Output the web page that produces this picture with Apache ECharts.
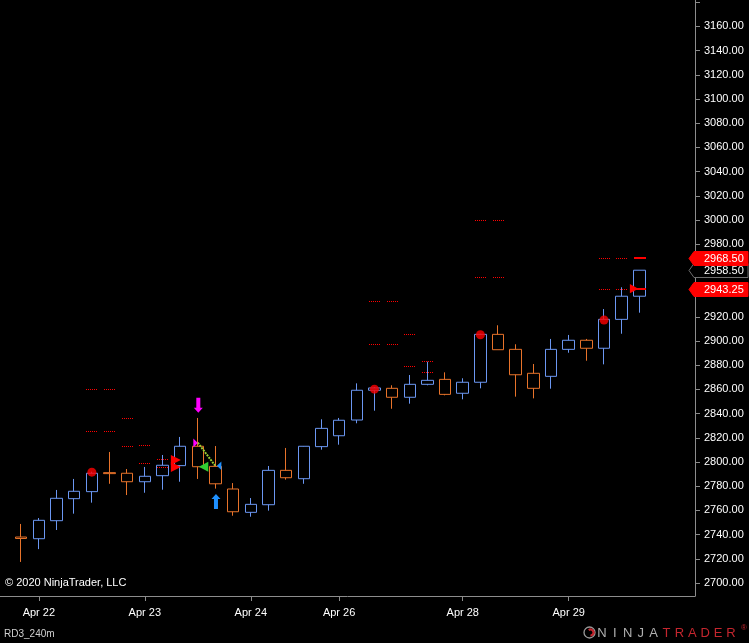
<!DOCTYPE html>
<html>
<head>
<meta charset="utf-8">
<title>RD3_240m</title>
<script src="https://cdn.jsdelivr.net/npm/echarts@6.0.0/dist/echarts.min.js"></script>
<style>
  html, body { margin: 0; padding: 0; background: #000; }
  #chart { width: 749px; height: 643px; }
</style>
</head>
<body>
<div id="chart"></div>
<script>
// 240 minute bars, one row per bar: [open, close, low, high]
const candles = [
  [2738.0, 2736.8, 2717.4, 2748.8],
  [2736.6, 2751.8, 2728.0, 2753.7],
  [2751.5, 2770.0, 2743.8, 2776.9],
  [2769.7, 2775.8, 2757.3, 2786.0],
  [2775.5, 2790.7, 2766.4, 2792.0],
  [2791.2, 2790.4, 2782.0, 2808.3],
  [2790.7, 2783.7, 2772.7, 2794.2],
  [2783.7, 2788.2, 2774.6, 2795.9],
  [2788.7, 2797.3, 2777.1, 2805.8],
  [2797.0, 2813.0, 2783.7, 2820.7],
  [2813.0, 2796.1, 2786.0, 2836.4],
  [2796.4, 2782.0, 2778.0, 2813.2],
  [2777.7, 2758.9, 2755.6, 2782.6],
  [2758.4, 2765.0, 2754.8, 2770.2],
  [2764.7, 2793.1, 2759.8, 2796.7],
  [2793.1, 2787.0, 2785.4, 2811.6],
  [2786.2, 2813.0, 2782.0, 2813.2],
  [2812.7, 2827.8, 2810.2, 2835.3],
  [2821.7, 2834.5, 2814.3, 2836.4],
  [2834.7, 2859.3, 2832.0, 2865.0],
  [2859.3, 2861.2, 2842.4, 2862.0],
  [2860.9, 2853.5, 2844.0, 2863.4],
  [2853.5, 2864.2, 2848.2, 2871.9],
  [2864.2, 2867.5, 2863.4, 2882.9],
  [2868.3, 2855.9, 2855.1, 2874.1],
  [2856.8, 2865.9, 2851.8, 2869.2],
  [2865.9, 2905.5, 2860.9, 2906.0],
  [2905.5, 2892.8, 2892.8, 2913.0],
  [2893.1, 2872.1, 2854.0, 2897.3],
  [2873.3, 2860.9, 2852.6, 2881.0],
  [2870.8, 2893.1, 2860.6, 2901.7],
  [2893.1, 2900.6, 2890.3, 2905.0],
  [2900.6, 2894.0, 2883.7, 2901.7],
  [2894.0, 2917.9, 2880.7, 2926.4],
  [2917.9, 2937.0, 2906.0, 2944.4],
  [2937.0, 2958.5, 2923.4, 2958.5]
];

// session labels on the time axis (bar index -> text)
const dateTicks = [1, 7, 13, 18, 25, 31];
const dateLabels = ['Apr 22', 'Apr 23', 'Apr 24', 'Apr 26', 'Apr 28', 'Apr 29'];

const priceTicks = [2700, 2720, 2740, 2760, 2780, 2800, 2820, 2840, 2860, 2880, 2900, 2920,
  2940, 2960, 2980, 3000, 3020, 3040, 3060, 3080, 3100, 3120, 3140, 3160, 3180];
const priceLabels = [2700, 2720, 2740, 2760, 2780, 2800, 2820, 2840, 2860, 2880, 2900, 2920,
  2980, 3000, 3020, 3040, 3060, 3080, 3100, 3120, 3140, 3160];

// indicator output: [bar index, price]
const dotLevels = [
  [4, 2860], [5, 2860], [4, 2825.4], [5, 2825.4], [6, 2836], [6, 2813],
  [7, 2813.8], [7, 2799], [8, 2802.2], [8, 2795.6],
  [20, 2932.8], [21, 2932.8], [20, 2897.3], [21, 2897.3], [22, 2905.5], [22, 2879],
  [23, 2883.2], [23, 2874.1],
  [26, 3000], [27, 3000], [26, 2952.6], [27, 2952.6],
  [33, 2968.5], [34, 2968.5], [33, 2943.25], [34, 2943.25]
];
const solidLevels = [[35, 2968.5], [35, 2943.25]];
const redDots = [[4, 2791.6], [20, 2860.2], [26, 2905.2], [33, 2917.4]];
const redFlags = [[9, 2801.6], [9, 2795.9]];
const lastFlag = [[35, 2943.25]];
const magentaFlag = [[10, 2815.7]];
const greenFlag = [[10, 2796.1]];
const blueFlag = [[11, 2796.9]];
const downArrows = [[10, 2840.8]];
const upArrows = [[11, 2773.6]];
const connector = [[10, 2816], [10.98, 2797]];

// price markers on the axis
const redTags = [2968.5, 2943.25];
const lastPrice = [2958.5];

const UP = '#6b97f2';
const DOWN = '#e8732a';
const FONT = '"Liberation Sans", Arial, sans-serif';

const chart = echarts.init(document.getElementById('chart'));

function levelSeries (data, dashed, width) {
  return {
    type: 'custom',
    data: data,
    z: 4,
    renderItem: function (params, api) {
      const p = api.coord([api.value(0), api.value(1)]);
      const y = Math.round(p[1]) + (width % 2 ? 0.5 : 0);
      const x1 = Math.round(p[0] - 5.5);
      return {
        type: 'line',
        shape: { x1: x1, y1: y, x2: x1 + (dashed ? 11 : 12), y2: y },
        style: { stroke: '#ff0000', lineWidth: width, lineDash: dashed ? [1, 1] : null }
      };
    }
  };
}

// dir 1 = pointing right, -1 = pointing left
function flagSeries (data, color, dir, len, half, tipOffset) {
  return {
    type: 'custom',
    data: data,
    z: 6,
    renderItem: function (params, api) {
      const p = api.coord([api.value(0), api.value(1)]);
      const tx = p[0] + tipOffset;
      const bx = tx - dir * len;
      return {
        type: 'polygon',
        shape: { points: [[tx, p[1]], [bx, p[1] - half], [bx, p[1] + half]] },
        style: { fill: color }
      };
    }
  };
}

// dir 1 = pointing down (tip at the value), -1 = pointing up
function arrowSeries (data, color, dir) {
  return {
    type: 'custom',
    data: data,
    z: 6,
    renderItem: function (params, api) {
      const p = api.coord([api.value(0), api.value(1)]);
      const cx = p[0] + 0.5;
      const ty = p[1];
      const hy = ty - dir * 5;
      const ey = ty - dir * 15;
      return {
        type: 'polygon',
        shape: {
          points: [[cx, ty], [cx + 4.5, hy], [cx + 2, hy], [cx + 2, ey],
            [cx - 2, ey], [cx - 2, hy], [cx - 4.5, hy]]
        },
        style: { fill: color }
      };
    }
  };
}

function tagSeries (values, fill, stroke) {
  return {
    type: 'custom',
    data: values.map(function (v) { return [0, v]; }),
    z: 10,
    renderItem: function (params, api) {
      const y = Math.round(api.coord([0, api.value(1)])[1]) + 0.5;
      const x = params.coordSys.x + params.coordSys.width;
      return {
        type: 'group',
        children: [{
          type: 'polygon',
          shape: { points: [[x - 6, y], [x - 1, y - 7], [x + 53, y - 7], [x + 53, y + 7], [x - 1, y + 7]] },
          style: { fill: fill, stroke: stroke, lineWidth: 1 }
        }, {
          type: 'text',
          style: {
            text: api.value(1).toFixed(2),
            x: x + 9,
            y: y,
            fill: '#fff',
            font: '11px ' + FONT,
            textAlign: 'left',
            textVerticalAlign: 'middle'
          }
        }]
      };
    }
  };
}

const logoText = 'NINJATRADER';
const logo = [];
for (let k = 0; k < logoText.length; k++) {
  logo.push({
    type: 'text',
    x: 602 + k * 12.9,
    y: 633,
    style: {
      text: logoText[k],
      fill: k < 5 ? '#b0b0b0' : '#c4262e',
      font: '13px ' + FONT,
      textAlign: 'center',
      textVerticalAlign: 'middle'
    }
  });
}

chart.setOption({
  backgroundColor: '#000',
  animation: false,
  grid: { left: 0, right: 54, top: 0, bottom: 47 },
  xAxis: {
    type: 'value',
    min: -1.2,
    max: 38.15,
    axisLine: { show: true, onZero: false, lineStyle: { color: '#8c8c8c', width: 1 } },
    axisTick: { show: true, length: 5, customValues: dateTicks, lineStyle: { color: '#8c8c8c' } },
    axisLabel: {
      customValues: dateTicks,
      margin: 11,
      color: '#fff',
      fontSize: 11,
      fontFamily: FONT,
      formatter: function (v) { return dateLabels[dateTicks.indexOf(v)] || ''; }
    },
    splitLine: { show: false }
  },
  yAxis: {
    type: 'value',
    position: 'right',
    min: 2689.26,
    max: 3181.82,
    axisLine: { show: true, onZero: false, lineStyle: { color: '#8c8c8c', width: 1 } },
    axisTick: { show: true, length: 5, customValues: priceTicks, lineStyle: { color: '#8c8c8c' } },
    axisLabel: {
      customValues: priceLabels,
      margin: 9,
      color: '#fff',
      fontSize: 11,
      fontFamily: FONT,
      formatter: function (v) { return v.toFixed(2); }
    },
    splitLine: { show: false }
  },
  series: [
    {
      type: 'candlestick',
      data: candles.map(function (c, i) { return [i, c[0], c[1], c[2], c[3]]; }),
      encode: { x: 0, y: [1, 2, 3, 4] },
      barWidth: 12,
      itemStyle: {
        color: '#000',
        color0: '#000',
        borderColor: UP,
        borderColor0: DOWN,
        borderWidth: 1
      },
      z: 3
    },
    {
      type: 'scatter',
      data: redDots,
      symbol: 'circle',
      symbolSize: 9,
      itemStyle: { color: '#ff0000' },
      z: 5
    },
    levelSeries(dotLevels, true, 1),
    levelSeries(solidLevels, false, 2),
    {
      type: 'line',
      data: connector,
      symbol: 'none',
      lineStyle: { color: '#9acd32', width: 2, type: [2, 1] },
      z: 5
    },
    flagSeries(redFlags, '#ff0000', 1, 10, 5, 0.7),
    flagSeries(lastFlag, '#ff0000', 1, 8.5, 4.7, -1),
    flagSeries(magentaFlag, '#ff00ff', 1, 4.5, 4.5, 0),
    flagSeries(greenFlag, '#32cd32', -1, 9.5, 5, 1),
    flagSeries(blueFlag, '#1e90ff', -1, 4.5, 4.2, 1.4),
    arrowSeries(downArrows, '#ff00ff', 1),
    arrowSeries(upArrows, '#1e90ff', -1),
    tagSeries(lastPrice, '#000', '#6e6e6e'),
    tagSeries(redTags, '#ff0000', '#ff0000')
  ],
  graphic: [
    {
      type: 'text',
      x: 5,
      y: 583,
      style: { text: '\u00a9 2020 NinjaTrader, LLC', fill: '#fff', font: '11px ' + FONT, textVerticalAlign: 'middle' }
    },
    {
      type: 'text',
      x: 4,
      y: 634,
      style: { text: 'RD3_240m', fill: '#d0d0d0', font: '10px ' + FONT, textVerticalAlign: 'middle' }
    },
    {
      type: 'circle',
      shape: { cx: 589.5, cy: 632.5, r: 5.5 },
      style: { fill: 'none', stroke: '#9a9a9a', lineWidth: 1.3 }
    },
    {
      type: 'arc',
      shape: { cx: 590.5, cy: 632.5, r: 3, startAngle: -2.2, endAngle: 1.6 },
      style: { fill: 'none', stroke: '#c4262e', lineWidth: 2.2 }
    },
    {
      type: 'text',
      x: 741,
      y: 628,
      style: { text: '\u00ae', fill: '#c4262e', font: '8px ' + FONT, textVerticalAlign: 'middle' }
    }
  ].concat(logo)
});
</script>
</body>
</html>
